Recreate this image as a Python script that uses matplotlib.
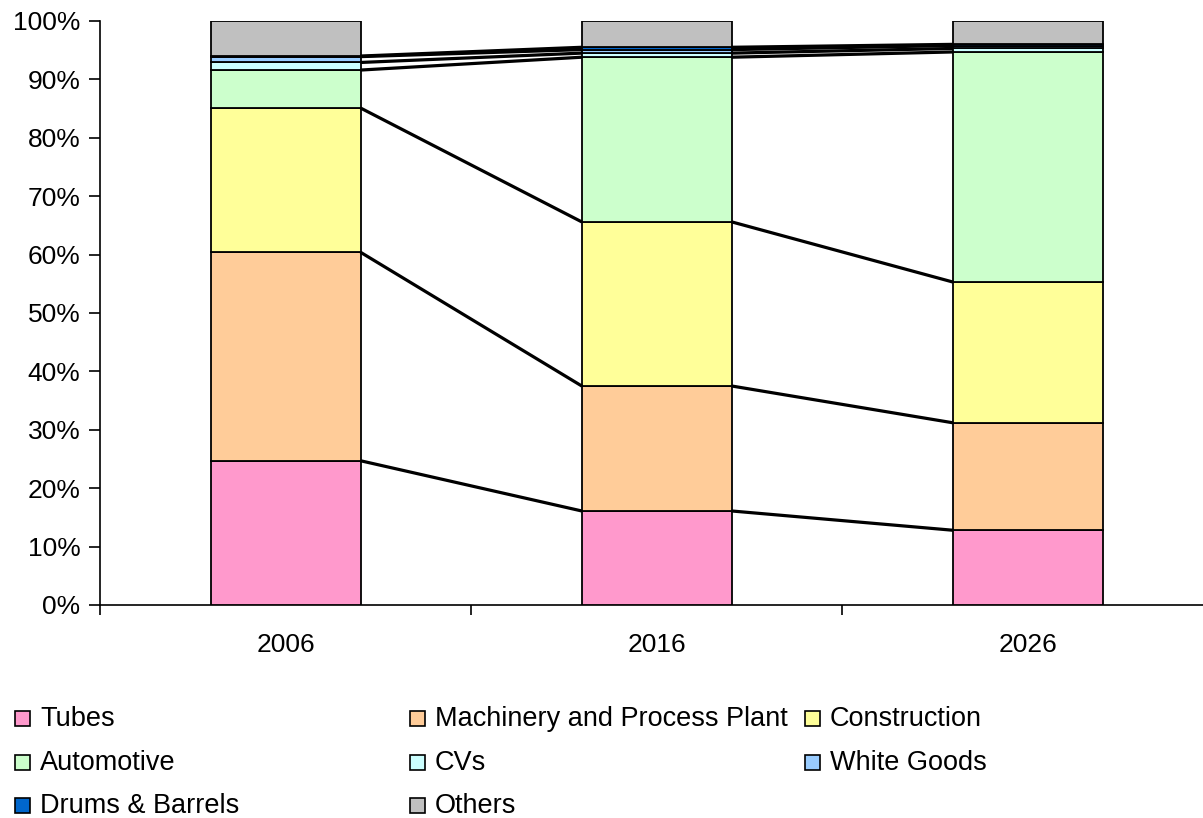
import matplotlib
matplotlib.use("Agg")
import matplotlib.pyplot as plt
from matplotlib.patches import Rectangle
import numpy as np

plt.rcParams['font.family'] = ['Liberation Sans', 'DejaVu Sans']

years = ['2006', '2016', '2026']
series_names = ['Tubes', 'Machinery and Process Plant', 'Construction', 'Automotive',
                'CVs', 'White Goods', 'Drums & Barrels', 'Others']
tubes = [24.7, 16.1, 12.8]
machinery = [35.7, 21.4, 18.4]
construction = [24.7, 28.1, 24.1]
automotive = [6.5, 28.2, 39.4]
cvs = [1.3, 0.7, 0.6]
white_goods = [1.0, 0.6, 0.5]
drums = [0.1, 0.4, 0.2]
others = [6.0, 4.5, 4.0]
colors = ['#FF99CC', '#FFCC99', '#FFFF99', '#CCFFCC', '#CCFFFF', '#99CCFF', '#0066CC', '#C0C0C0']

data = [tubes, machinery, construction, automotive, cvs, white_goods, drums, others]

fig = plt.figure(figsize=(12.03, 8.18), dpi=100)
W, H = 1203, 818
ax = fig.add_axes([100 / W, 1 - 605 / H, 1113.5 / W, 584 / H])

x = np.arange(len(years))
width = 0.404
bottom = np.zeros(len(years))
tops = []
for vals, col in zip(data, colors):
    v = np.array(vals)
    ax.bar(x, v, width, bottom=bottom, color=col, edgecolor='black', linewidth=1.3, zorder=3)
    bottom = bottom + v
    tops.append(bottom.copy())

# series lines (excluding the top series)
for t in tops[:-1]:
    for i in range(len(years) - 1):
        ax.plot([x[i] + width / 2, x[i + 1] - width / 2], [t[i], t[i + 1]],
                color='black', linewidth=2.3, zorder=4, solid_capstyle='butt')

ax.set_xlim(-0.5, 2.5)
ax.set_ylim(0, 100)
ax.set_yticks(np.arange(0, 101, 10))
ax.set_yticklabels([f'{v}%' for v in range(0, 101, 10)], fontsize=19)
ax.set_xticks(x)
ax.set_xticklabels(years, fontsize=19)
ax.tick_params(axis='x', length=0, pad=20)
ax.set_xticks([-0.5, 0.5, 1.5, 2.5], minor=True)
ax.tick_params(axis='x', which='minor', length=7, width=1.2, direction='out')
ax.tick_params(axis='y', length=8, width=1.2, direction='out', pad=6)
for s in ['top', 'right']:
    ax.spines[s].set_visible(False)
ax.spines['left'].set_linewidth(1.2)
ax.spines['bottom'].set_linewidth(1.2)

# legend laid out row-wise like the original
col_x = [15, 410, 805]
row_y = [718, 762, 805]
sq = 15
for k, (name, col) in enumerate(zip(series_names, colors)):
    r, c = divmod(k, 3)
    hx, hy = col_x[c], row_y[r]
    fig.patches.append(Rectangle((hx / W, 1 - (hy + sq / 2) / H), sq / W, sq / H,
                                 transform=fig.transFigure, facecolor=col,
                                 edgecolor='black', linewidth=1.2))
    fig.text((hx + 25) / W, 1 - (hy + 1) / H, name, fontsize=19.5, va='center', ha='left')

fig.savefig('out.png', dpi=100)
